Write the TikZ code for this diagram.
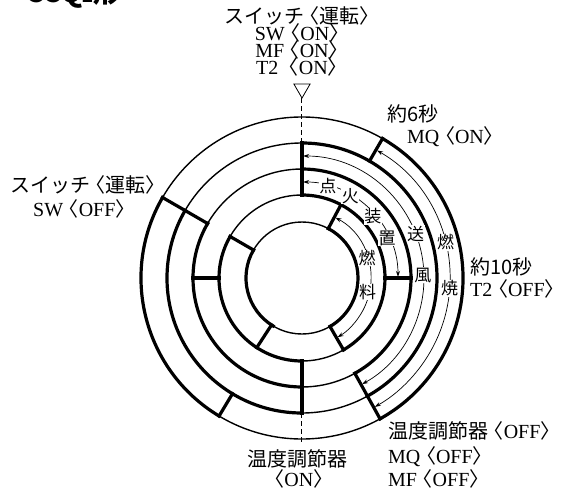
\documentclass[tikz,border=0pt]{standalone}
\usepackage{fontspec}
\setmainfont{Liberation Serif}
\newfontfamily\jpfont[Scale=1.0]{Noto Sans CJK JP}
\newfontfamily\headfont{Noto Sans CJK JP}
\usetikzlibrary{shapes.geometric, arrows.meta}
\newcommand{\openang}{{\jpfont\hspace{-0.22em}〈}}
\newcommand{\closeang}{{\jpfont 〉\hspace{-0.22em}}}
\tikzset{
    ring/.style={
        line width=1.4pt
    },
    onring/.style={
        line width=3.2pt, line cap=rect
    },
    span/.style={
        line width=0.7pt, shorten <=1.2pt, shorten >=1.2pt,
        {Stealth[length=6pt,width=4pt]}-{Stealth[length=6pt,width=4pt]}
    },
    tracklabel/.style={
        fill=white, inner sep=0.5pt, font=\fontsize{17}{17}\selectfont\jpfont
    },
    event/.style={
        inner sep=0pt, anchor=base west, font=\fontsize{20}{20}\selectfont
    },
    eventc/.style={
        event, anchor=base
    },
    cut/.style={
        line width=1pt, dash pattern=on 5pt off 3pt
    }
}

\begin{document}
\begin{tikzpicture}[x=1pt, y=1pt]

    \useasboundingbox (-302,-210) rectangle (263,278);

    \node[anchor=base west, inner sep=0pt, font=\fontsize{28}{28}\selectfont\bfseries\headfont]
        (title) at (-277,275) {CCQ{\fontsize{18}{18}\selectfont 2}形};

    % rings
    \foreach \r in {161,135,109,83,56}
        \draw[ring] (0,0) circle[radius=\r];

    \foreach \r/\a/\b in {161/60/-61, 161/-121/-210,
                          135/90/-61, 135/-90/-210,
                          109/90/-61, 109/-90/-210,
                          83/90/-60,  83/-90/-210,
                          56/62/-60,  56/-121/-210}
        \draw[onring] (\a:\r) arc[start angle=\a, end angle=\b, radius=\r];

    \foreach \t/\ri/\ro in {90/83/135, 60/135/161, 62/56/83, 0/83/109,
                            -61/109/161, -60/56/83, -90/83/135, -121/135/161,
                            -123/56/83, 180/83/109, -210/109/161, -210/56/83}
        \draw[onring] (\t:\ri) -- (\t:\ro);

    % start / thermostat marks
    \node[draw, regular polygon, regular polygon sides=3, shape border rotate=180,
          minimum size=18.7pt, inner sep=0pt, outer sep=0pt, line width=0.8pt]
        (tri) at (0,189.3) {};
    \coordinate (topcut) at (90:135);
    \coordinate (botcut) at (-90:135);
    \coordinate (botend) at (-90:165);
    \draw[cut] (tri.south) -- (topcut);
    \draw[cut] (botcut) -- (botend);

    % durations
    \draw[span] (60:148) arc[start angle=60, end angle=-61, radius=148];
    \draw[span] (90:122) arc[start angle=90, end angle=-61, radius=122];
    \draw[span] (90:96)  arc[start angle=90, end angle=0,   radius=96];
    \draw[span] (62:69)  arc[start angle=62, end angle=-60, radius=69];

    \node[tracklabel] (burnA) at (14:148)   {燃};
    \node[tracklabel] (burnB) at (-4:148)   {焼};
    \node[tracklabel] (fanA)  at (21.4:122) {送};
    \node[tracklabel] (fanB)  at (1.4:121)  {風};
    \node[tracklabel] (ignA)  at (74.4:96)  {点};
    \node[tracklabel] (ignB)  at (59.4:95)  {火};
    \node[tracklabel] (ignC)  at (41:94)    {装};
    \node[tracklabel] (ignD)  at (25.2:94)  {置};
    \node[tracklabel] (fuelA) at (17:68)    {燃};
    \node[tracklabel] (fuelB) at (-12:67)   {料};

    % events
    \node[eventc] (run)   at (0,254)    {\jpfont スイッチ\hspace{-0.22em}〈運転〉};
    \node[eventc] (swon)  at (0,237)    {SW\openang ON\closeang};
    \node[eventc] (mfon)  at (0,220)    {MF\openang ON\closeang};
    \node[eventc] (t2on)  at (0,204)    {T2 \openang ON\closeang};

    \node[event]  (sec6)  at (85,157)   {\jpfont 約6秒};
    \node[event]  (mqon)  at (105,135)  {MQ\openang ON\closeang};

    \node[event]  (sec10) at (168,4)    {\jpfont 約10秒};
    \node[event]  (t2off) at (168,-18)  {T2\openang OFF\closeang};

    \node[event]  (thoff) at (86,-160)  {{\jpfont 温度調節器}\openang OFF\closeang};
    \node[event]  (mqoff) at (86,-185)  {MQ\openang OFF\closeang};
    \node[event]  (mfoff) at (86,-208)  {MF\openang OFF\closeang};

    \node[eventc] (thon)  at (-4,-188)  {\jpfont 温度調節器};
    \node[eventc] (thonb) at (-1,-208)  {\openang ON\closeang};

    \node[event]  (stop)  at (-292,86)  {\jpfont スイッチ\hspace{-0.22em}〈運転〉};
    \node[event]  (swoff) at (-269,62)  {SW\openang OFF\closeang};

\end{tikzpicture}
\end{document}
